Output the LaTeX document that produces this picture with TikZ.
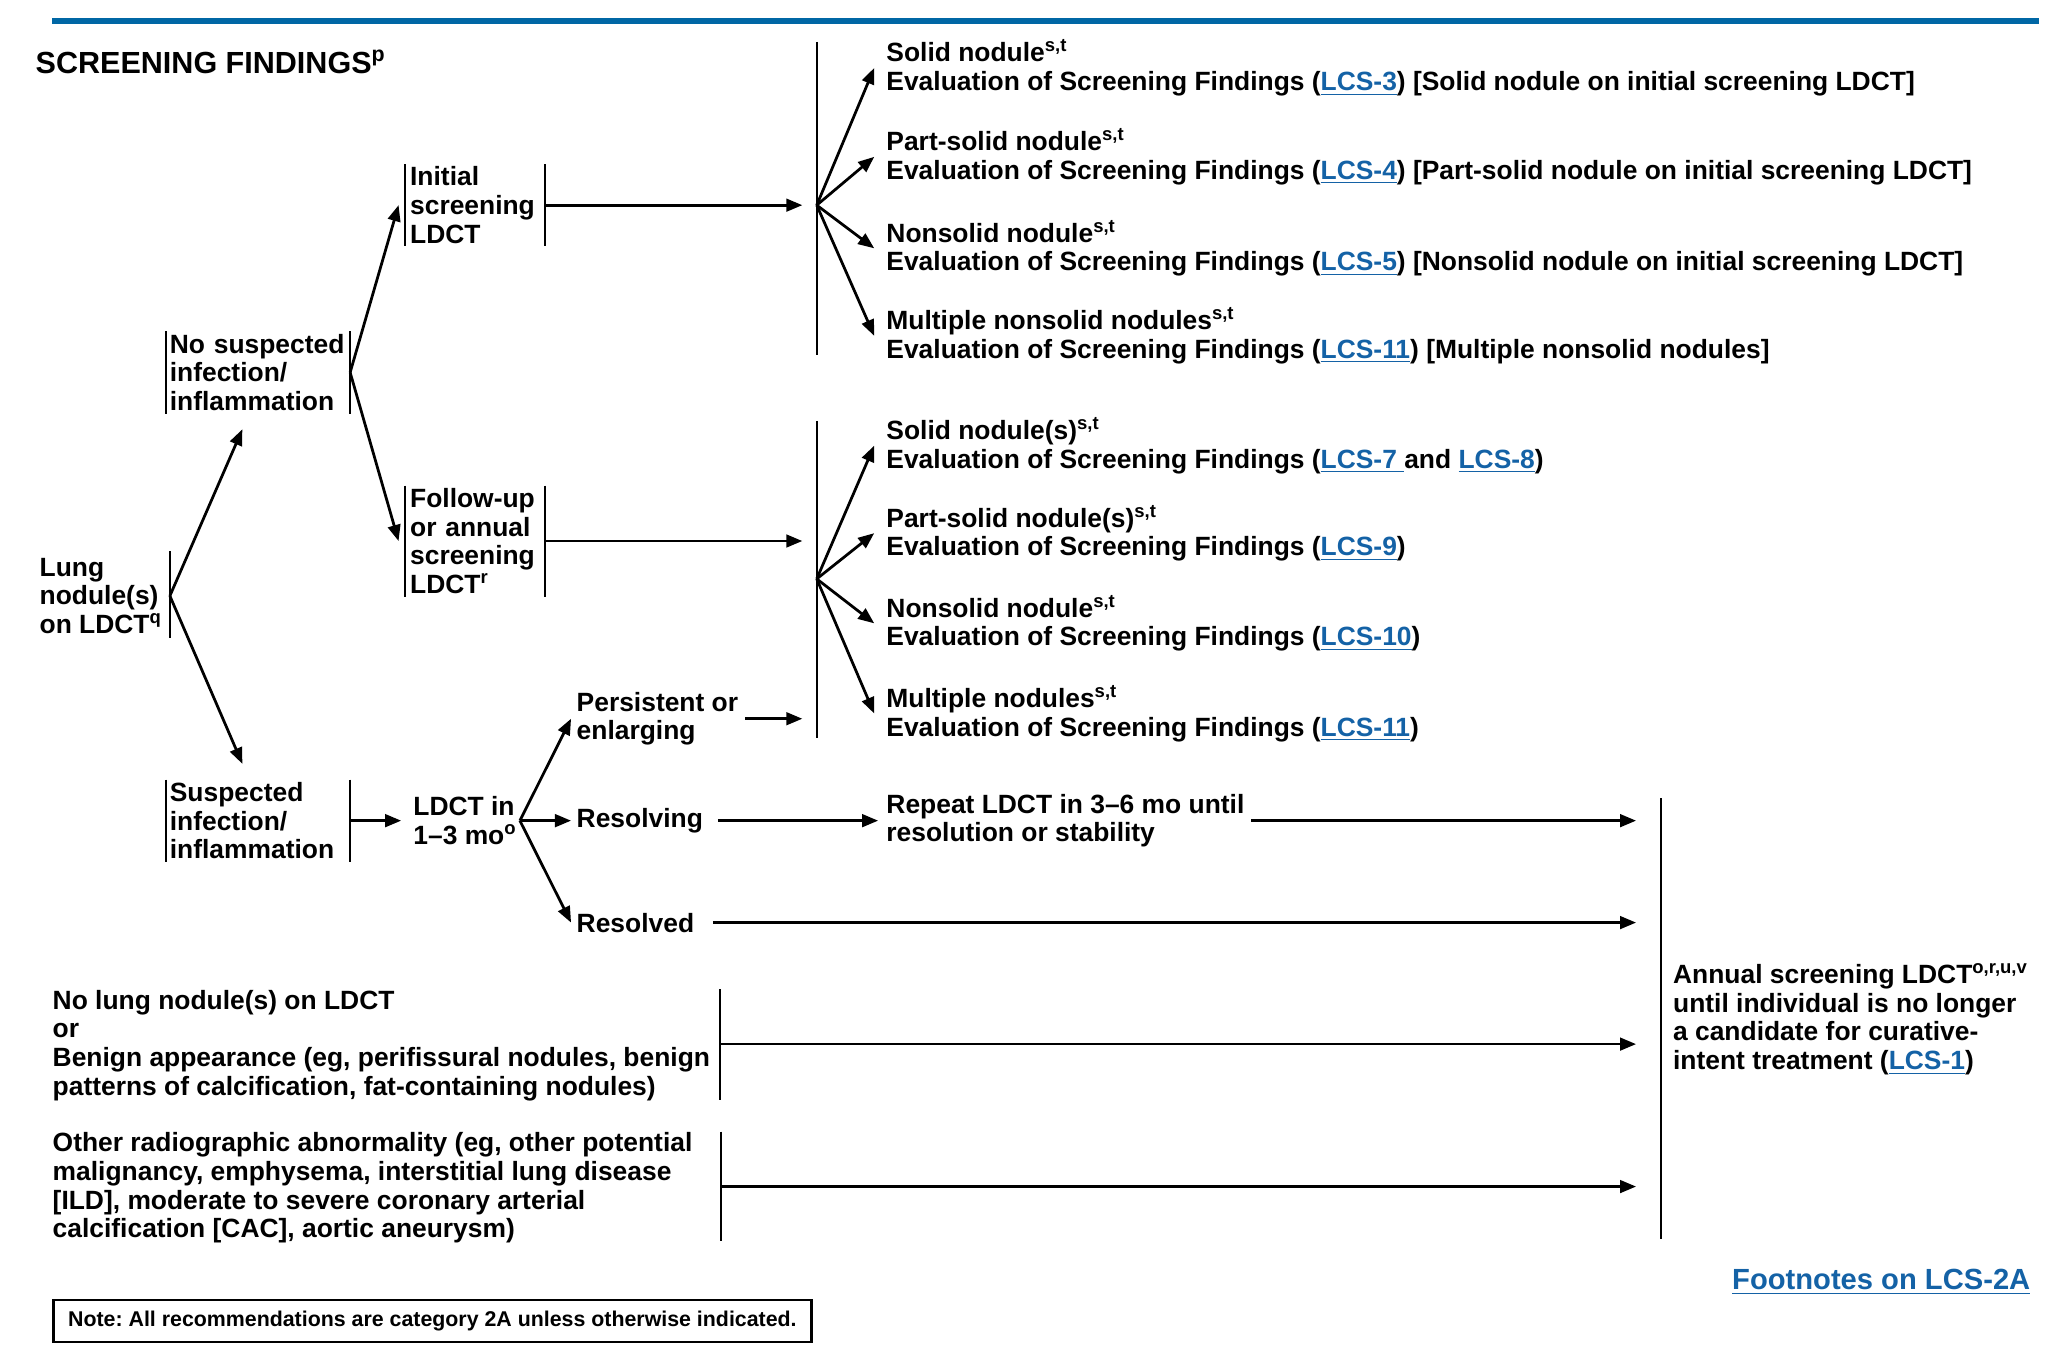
\documentclass[tikz,border=0pt]{standalone}
\usepackage{fontspec}
\setmainfont{Liberation Sans}
\usetikzlibrary{arrows.meta,calc}

\definecolor{nccnblue}{RGB}{0,103,165}
\definecolor{linkblue}{RGB}{20,98,166}
\newcommand{\lcs}[1]{{\color{linkblue}\underline{#1}}}
\newcommand{\st}{\textsuperscript{s,t}}

\begin{document}
\frenchspacing
\begin{tikzpicture}[x=0.02cm,y=-0.02cm,
  txt/.style={anchor=west,align=left,inner sep=0pt,font=\bfseries\fontsize{11.5}{12.5}\selectfont},
  brk/.style={txt,inner xsep=#1,inner ysep=1pt},
  brk/.default=2pt,
  arr/.style={-{Triangle[length=7pt,width=5.5pt]},line width=1.2pt},
  bar/.style={line width=0.9pt}]
\useasboundingbox (0,0) rectangle (1568,1035);

% header
\draw[nccnblue,line width=2.8pt] (40,16) -- (1560,16);
\node[txt,font=\bfseries\fontsize{13.3}{15}\selectfont] (title) at (27,47) {SCREENING FINDINGS\textsuperscript{p}};

% left column
\node[txt] (lung) at (30,456) {Lung\\nodule(s)\\on LDCT\textsuperscript{q}};
\coordinate (lungR) at (130,456);
\draw[bar] (130,422) -- (130,488);
\node[brk=1.5pt,text width=2.7cm] (nosusp) at (127,285) {No suspected\\infection/\\inflammation};
\node[brk=1.5pt,text width=2.7cm] (susp) at (127,628) {Suspected\\infection/\\inflammation};
\node[brk=2pt,text width=1.98cm] (init) at (310,157) {Initial\\screening\\LDCT};
\node[brk=2pt,text width=1.98cm] (follow) at (310,414) {Follow-up\\or annual\\screening\\LDCT\textsuperscript{r}};
\foreach \b in {nosusp,susp,init,follow}
  \draw[bar] (\b.north west) -- (\b.south west) (\b.north east) -- (\b.south east);

\node[txt] (ldct) at (316,628) {LDCT in\\1–3 mo\textsuperscript{o}};
\node[txt] (persist) at (441,550) {Persistent or\\enlarging};
\node[txt] (resolving) at (441,628) {Resolving};
\node[txt] (resolved) at (441,706) {Resolved};
\node[txt] (repeat) at (678,628) {Repeat LDCT in 3–6 mo until\\resolution or stability};

% findings
\node[txt] (s1) at (678,52) {Solid nodule\st\\Evaluation of Screening Findings (\lcs{LCS-3}) [Solid nodule on initial screening LDCT]};
\node[txt] (s2) at (678,120) {Part-solid nodule\st\\Evaluation of Screening Findings (\lcs{LCS-4}) [Part-solid nodule on initial screening LDCT]};
\node[txt] (s3) at (678,190) {Nonsolid nodule\st\\Evaluation of Screening Findings (\lcs{LCS-5}) [Nonsolid nodule on initial screening LDCT]};
\node[txt] (s4) at (678,257) {Multiple nonsolid nodules\st\\Evaluation of Screening Findings (\lcs{LCS-11}) [Multiple nonsolid nodules]};
\node[txt] (f1) at (678,341) {Solid nodule(s)\st\\Evaluation of Screening Findings (\lcs{LCS-7\ }and \lcs{LCS-8})};
\node[txt] (f2) at (678,408) {Part-solid nodule(s)\st\\Evaluation of Screening Findings (\lcs{LCS-9})};
\node[txt] (f3) at (678,477) {Nonsolid nodule\st\\Evaluation of Screening Findings (\lcs{LCS-10})};
\node[txt] (f4) at (678,546) {Multiple nodules\st\\Evaluation of Screening Findings (\lcs{LCS-11})};

\node[txt] (annual) at (1280,780) {Annual screening LDCT\textsuperscript{o,r,u,v}\\until individual is no longer\\a candidate for curative-\\intent treatment (\lcs{LCS-1})};

\node[txt] (nolung) at (40,800) {No lung nodule(s) on LDCT\\or\\Benign appearance (eg, perifissural nodules, benign\\patterns of calcification, fat-containing nodules)};
\node[txt] (other) at (40,909) {Other radiographic abnormality (eg, other potential\\malignancy, emphysema, interstitial lung disease\\{[ILD]}, moderate to severe coronary arterial\\calcification [CAC], aortic aneurysm)};
\coordinate (nolungR) at (551,799);
\coordinate (otherR) at (552,908);
\draw[bar] (551,757) -- (551,842) (552,866) -- (552,950);

% long bars
\coordinate (fanA) at (625,157);
\coordinate (fanB) at (625,443);
\coordinate (barC) at (1271,780);
\draw[bar] (625,32) -- (625,272) (625,322) -- (625,565) (1271,611) -- (1271,948);

% connectors
\draw[arr] (lungR) -- ($(nosusp.south)+(-12,12)$);
\draw[arr] (lungR) -- ($(susp.north)+(-12,-12)$);
\draw[arr] (nosusp.east) -- ($(init.west)+(-5,0)$);
\draw[arr] (nosusp.east) -- ($(follow.west)+(-5,0)$);
\draw[arr,shorten >=0.22cm] (init.east) -- (init.east -| fanA);
\draw[arr,shorten >=0.22cm] (follow.east) -- (follow.east -| fanB);
\foreach \n in {s1,s2,s3,s4} \draw[arr] (fanA) -- ($(\n.west)+(-9,0)$);
\foreach \n in {f1,f2,f3,f4} \draw[arr] (fanB) -- ($(\n.west)+(-9,0)$);
\draw[arr] (susp.east) -- ($(ldct.west)+(-9,0)$);
\foreach \n in {persist,resolving,resolved} \draw[arr] ($(ldct.east)+(2,0)$) -- ($(\n.west)+(-4,0)$);
\draw[arr,shorten <=0.1cm,shorten >=0.22cm] (persist.east) -- (persist.east -| fanB);
\draw[arr,shorten <=0.22cm,shorten >=0.12cm] (resolving.east) -- (repeat.west);
\draw[arr,shorten <=0.1cm,shorten >=0.38cm] (repeat.east) -- (repeat.east -| barC);
\draw[arr,shorten <=0.28cm,shorten >=0.38cm] (resolved.east) -- (resolved.east -| barC);
\draw[arr,shorten >=0.38cm] (nolungR) -- (nolungR -| barC);
\draw[arr,shorten >=0.38cm] (otherR) -- (otherR -| barC);

% footer
\node[txt,anchor=east,font=\bfseries\fontsize{12.7}{14}\selectfont] (foot) at (1554,981) {\lcs{Footnotes on LCS-2A}};
\node[draw,line width=1.1pt,anchor=north west,minimum width=11.6cm,minimum height=0.64cm,font=\bfseries\fontsize{9.3}{11}\selectfont] (note) at (40,994) {Note: All recommendations are category 2A unless otherwise indicated.};
\end{tikzpicture}
\end{document}
